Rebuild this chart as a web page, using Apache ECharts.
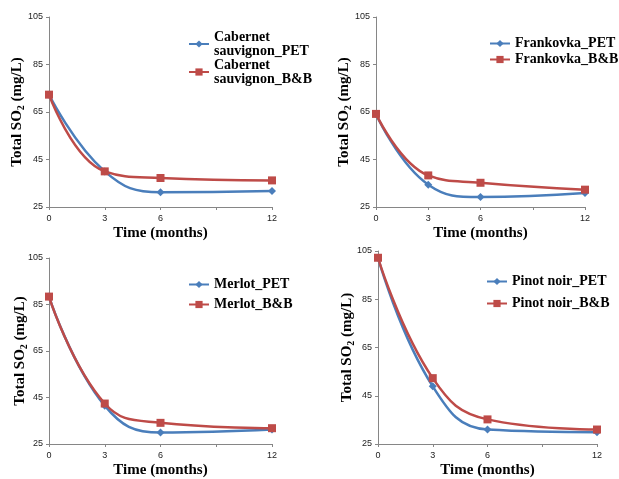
<!DOCTYPE html>
<html>
<head>
<meta charset="utf-8">
<script src="https://cdn.jsdelivr.net/npm/echarts@6/dist/echarts.min.js"></script>
<style>
  html, body { margin: 0; padding: 0; background: #fff; }
  #myChart { width: 619px; height: 479px; }
</style>
</head>
<body>
<div id="myChart"></div>
<script>
// 月份 (x)
var months = [0, 3, 6, 12];
var xTickLabels = [0, 3, 6, 12];
var xTickMarks = [0, 3, 6, 9, 12];
var yTickLabels = [25, 45, 65, 85, 105];

// Total SO2 (mg/L)
var cabernetPET = [72.3, 40.0, 31.2, 31.7];
var cabernetBB = [72.3, 40.0, 37.2, 36.2];
var frankovkaPET = [64.2, 34.4, 29.2, 30.9];
var frankovkaBB = [64.2, 38.3, 35.2, 32.3];
var merlotPET = [88.4, 41.5, 29.9, 31.2];
var merlotBB = [88.4, 42.4, 34.1, 31.8];
var pinotPET = [102.2, 48.9, 31.0, 29.9];
var pinotBB = [102.2, 52.3, 35.2, 31.0];

var panels = [
  { pet: 'Cabernet sauvignon_PET', bb: 'Cabernet sauvignon_B&B', petData: cabernetPET, bbData: cabernetBB },
  { pet: 'Frankovka_PET', bb: 'Frankovka_B&B', petData: frankovkaPET, bbData: frankovkaBB },
  { pet: 'Merlot_PET', bb: 'Merlot_B&B', petData: merlotPET, bbData: merlotBB },
  { pet: 'Pinot noir_PET', bb: 'Pinot noir_B&B', petData: pinotPET, bbData: pinotBB }
];

// layout of the four plots
var grids = [
  { left: 49, top: 17, width: 223, height: 190 },
  { left: 376, top: 17, width: 209, height: 190 },
  { left: 49, top: 258, width: 223, height: 189 },
  { left: 378, top: 251, width: 219, height: 196 }
];
var legendPos = [
  { left: 188, top: 30, itemGap: 0, lineHeight: 14 },
  { left: 489, top: 36, itemGap: 1, lineHeight: 15 },
  { left: 188, top: 277, itemGap: 5, lineHeight: 15 },
  { left: 486, top: 274, itemGap: 7, lineHeight: 15 }
];
var yNameGap = [23, 23, 20, 22];

var BLUE = '#4a7ebb', RED = '#be4b48', AXIS = '#868686';
var serif = 'Liberation Serif';

function pairs(arr) {
  return months.map(function (m, i) { return [m, arr[i]]; });
}

var option = {
  animation: false,
  backgroundColor: '#fff',
  grid: [], xAxis: [], yAxis: [], legend: [], series: []
};

panels.forEach(function (p, i) {
  option.grid.push(grids[i]);
  option.xAxis.push({
    type: 'value', gridIndex: i, min: 0, max: 12,
    name: 'Time (months)', nameLocation: 'middle', nameGap: 19, nameMoveOverlap: false,
    nameTextStyle: { fontFamily: serif, fontWeight: 'bold', fontSize: 15, color: '#000' },
    axisLine: { lineStyle: { color: AXIS, width: 1 } },
    axisTick: { show: true, length: 3, lineStyle: { color: AXIS }, customValues: xTickMarks },
    axisLabel: { fontSize: 9, color: '#222', margin: 7, customValues: xTickLabels },
    splitLine: { show: false }
  });
  option.yAxis.push({
    type: 'value', gridIndex: i, min: 25, max: 105,
    name: 'Total SO{s|2} (mg/L)', nameLocation: 'middle', nameGap: yNameGap[i], nameMoveOverlap: false,
    nameTextStyle: {
      fontFamily: serif, fontWeight: 'bold', fontSize: 15, color: '#000',
      rich: { s: { fontFamily: serif, fontWeight: 'bold', fontSize: 10, padding: [7, 0, 0, 0], color: '#000' } }
    },
    axisLine: { show: true, lineStyle: { color: AXIS, width: 1 } },
    axisTick: { show: true, length: 3, lineStyle: { color: AXIS }, customValues: yTickLabels },
    axisLabel: { fontSize: 9, color: '#222', margin: 6, customValues: yTickLabels },
    splitLine: { show: false }
  });
  option.legend.push({
    orient: 'vertical', left: legendPos[i].left, top: legendPos[i].top, padding: 0,
    itemGap: legendPos[i].itemGap, itemWidth: 20, itemHeight: 9,
    data: [p.pet, p.bb],
    textStyle: { fontFamily: serif, fontWeight: 'bold', fontSize: 14, color: '#000', lineHeight: legendPos[i].lineHeight },
    formatter: i === 0 ? function (n) { return n.replace(' ', '\n'); } : '{name}'
  });
  option.series.push({
    name: p.pet, type: 'line', xAxisIndex: i, yAxisIndex: i,
    data: pairs(p.petData), smooth: 0.45,
    symbol: 'diamond', symbolSize: 8,
    lineStyle: { color: BLUE, width: 2.5 },
    itemStyle: { color: BLUE }
  });
  option.series.push({
    name: p.bb, type: 'line', xAxisIndex: i, yAxisIndex: i,
    data: pairs(p.bbData), smooth: 0.45,
    symbol: 'rect', symbolSize: 8,
    lineStyle: { color: RED, width: 2.5 },
    itemStyle: { color: RED }
  });
});

var myChart = echarts.init(document.getElementById('myChart'));
myChart.setOption(option);
</script>
</body>
</html>
